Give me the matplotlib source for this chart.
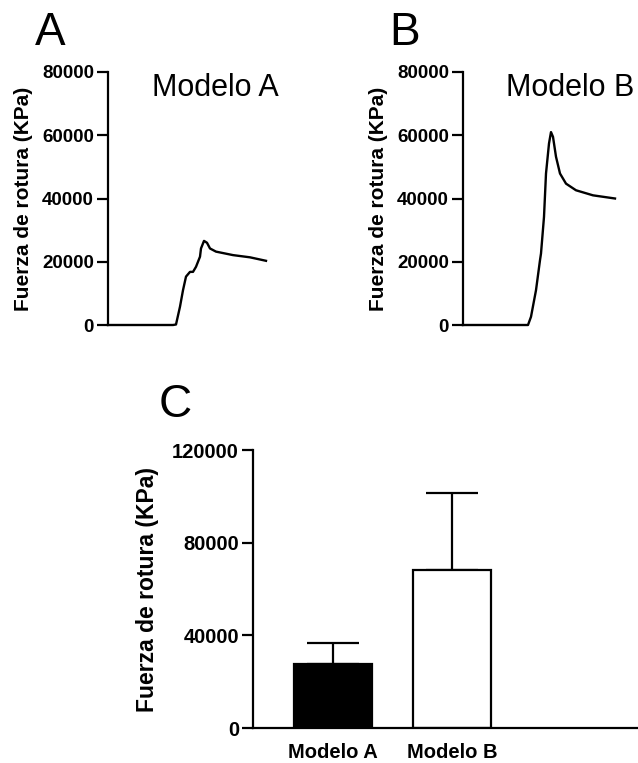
import matplotlib.pyplot as plt
import numpy as np

plt.rcParams['font.family'] = ['Liberation Sans', 'DejaVu Sans']

# curva Modelo A (x arbitrario, y en KPa)
xa = [0, 65, 68, 72, 75, 78, 82, 85, 88, 92, 93, 96, 99, 102, 108, 125, 142, 158]
ya = [0, 0, 160, 5800, 11000, 15300, 16800, 16800, 18400, 21600, 24200, 26600, 26000, 24200, 23200, 22100, 21400, 20300]

# curva Modelo B
xb = [0, 65, 68, 73, 77, 78, 81, 83, 86, 88, 90, 93, 97, 103, 113, 130, 152]
yb = [0, 0, 2600, 11000, 20500, 22600, 34200, 47900, 57400, 61000, 59500, 53200, 47900, 44700, 42600, 41000, 40000]

# barras
modelos = ['Modelo A', 'Modelo B']
medias = [27600, 68200]
errores = [9100, 33300]

fig = plt.figure(figsize=(6.38, 7.63), dpi=100)

def curva(rect, x, y, titulo, letra, letra_xy):
    ax = fig.add_axes(rect)
    ax.plot(x, y, color='black', lw=1.7, clip_on=False)
    ax.set_xlim(0, 182)
    ax.set_ylim(0, 80000)
    ax.set_yticks([0, 20000, 40000, 60000, 80000])
    ax.set_xticks([])
    for s in ['top', 'right', 'bottom']:
        ax.spines[s].set_visible(False)
    ax.spines['left'].set_linewidth(1.6)
    ax.tick_params(axis='y', length=8, width=1.6, labelsize=13.5, pad=2)
    for t in ax.get_yticklabels():
        t.set_fontweight('bold')
    ax.set_ylabel('Fuerza de rotura (KPa)', fontsize=15, fontweight='bold')
    ax.yaxis.set_label_coords(-0.41, 0.5)
    ax.text(0.59, 0.935, titulo, transform=ax.transAxes, fontsize=22,
            ha='center', va='center')
    fig.text(letra_xy[0], letra_xy[1], letra, fontsize=33, ha='left', va='top')
    return ax

curva([108/638, 1 - 325/763, 182/638, 253/763], xa, ya, 'Modelo A', 'A', (35/638, 1 - 11/763))
curva([463/638, 1 - 325/763, 182/638, 253/763], xb, yb, 'Modelo B', 'B', (389/638, 1 - 11/763))

# panel C
axc = fig.add_axes([253/638, 1 - 728/763, 385/638, 278/763])
pos = np.arange(len(modelos))
axc.bar(pos, medias, width=0.655, color=['black', 'white'], edgecolor='black',
        linewidth=1.6, zorder=2)
axc.errorbar(pos, medias, yerr=[[0, 0], errores], fmt='none', ecolor='black',
             elinewidth=1.6, capsize=19, capthick=1.6, zorder=1)
axc.set_xlim(-0.672, 2.563)
axc.set_ylim(0, 120000)
axc.set_yticks([0, 40000, 80000, 120000])
axc.set_xticks(pos)
axc.set_xticklabels(modelos, fontsize=14.5, fontweight='bold')
axc.tick_params(axis='x', length=0, pad=11)
axc.tick_params(axis='y', length=8, width=1.6, labelsize=14.5, pad=2)
for t in axc.get_yticklabels():
    t.set_fontweight('bold')
for s in ['top', 'right']:
    axc.spines[s].set_visible(False)
axc.spines['left'].set_linewidth(1.6)
axc.spines['bottom'].set_linewidth(1.6)
axc.set_ylabel('Fuerza de rotura (KPa)', fontsize=16.5, fontweight='bold')
axc.yaxis.set_label_coords(-0.245, 0.5)
fig.text(159/638, 1 - 383/763, 'C', fontsize=33, ha='left', va='top')

fig.savefig('out.png', dpi=100)
